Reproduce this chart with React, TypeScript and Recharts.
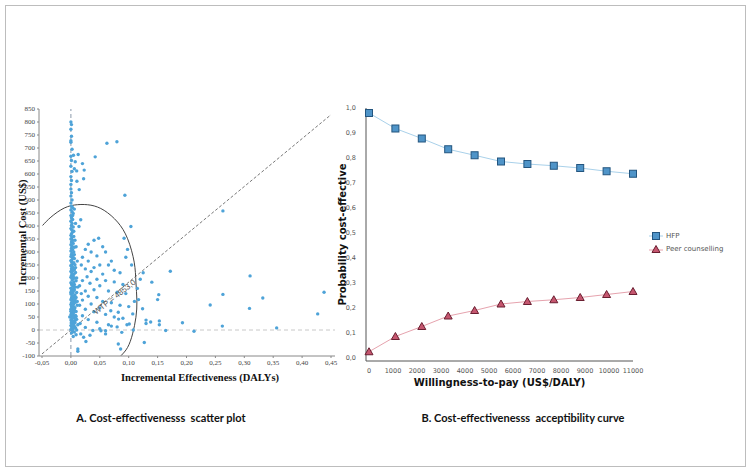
import {
  ComposedChart,
  LineChart,
  Scatter,
  Line,
  XAxis,
  YAxis,
  ReferenceLine,
  ReferenceDot,
} from 'recharts';

// panel A: incremental effectiveness (DALYs) vs incremental cost (US$)
const scatterPoints: [number, number][] = [
  // dense column at ~0 DALYs
  [0, 800], [0.001, 790], [0, 772], [0.001, 745], [0, 728], [0, 722], [0.002, 695], [0, 668],
  [0.001, 652], [0, 630], [0.002, 610], [0, 590], [0.001, 575], [0, 560], [0, 542], [0.001, 528],
  [0, 515], [0.002, 500], [0, 488], [0.001, 476], [0.003, 470], [0, 462], [0.002, 455], [0.004, 448],
  [0, 440], [0.001, 432], [0.003, 425], [0, 418], [0.002, 410], [0.001, 402], [0.004, 396], [0, 390],
  [0.002, 384], [0.003, 377], [0.001, 370], [0, 364], [0.005, 360], [0.002, 356], [0, 350], [0.003, 344],
  [0.001, 338], [0.004, 333], [0, 328], [0.002, 322], [0.006, 318], [0.001, 314], [0.003, 309], [0, 304],
  [0.005, 300], [0.002, 296], [0.001, 291], [0.004, 287], [0, 283], [0.003, 279], [0.006, 275], [0.002, 271],
  [0, 267], [0.001, 263], [0.005, 259], [0.003, 255], [0.007, 251], [0, 248], [0.002, 244], [0.004, 240],
  [0.001, 236], [0.006, 232], [0.003, 228], [0, 225], [0.008, 221], [0.002, 218], [0.005, 214], [0.001, 210],
  [0.004, 206], [0, 203], [0.007, 199], [0.003, 196], [0.002, 192], [0.009, 189], [0.005, 185], [0, 182],
  [0.001, 178], [0.006, 175], [0.003, 171], [0.004, 168], [0.008, 165], [0, 161], [0.002, 158], [0.006, 154],
  [0.001, 151], [0.004, 147], [0.01, 144], [0.003, 141], [0, 138], [0.007, 135], [0.002, 131], [0.005, 128],
  [0.009, 125], [0.001, 122], [0.004, 119], [0, 116], [0.006, 113], [0.003, 110], [0.008, 107], [0.002, 104],
  [0.005, 101], [0, 98], [0.011, 95], [0.004, 92], [0.001, 89], [0.007, 86], [0.003, 83], [0, 80],
  [0.006, 77], [0.002, 74], [0.009, 71], [0.005, 68], [0.001, 65], [0.004, 62], [0, 59], [0.008, 56],
  [0.003, 53], [-0.002, 50], [0.006, 47], [0.002, 44], [0.01, 41], [0, 38], [0.005, 35], [0.003, 32],
  [0.007, 29], [0.001, 26], [0.004, 23], [0.012, 20], [0, 17], [0.006, 14], [0.002, 11], [0.008, 8],
  [0.004, 5], [0, 2], [0.01, 0], [0.003, -4], [0.006, -8], [0.001, -12], [0.009, -18], [0.004, -25],
  [0.012, -82], [0.001, 245], [0.003, 215], [0.002, 175], [0.005, 160], [0, 145], [0.004, 130], [0.007, 118],
  [0.001, 105], [0.003, 92], [0.006, 85], [0, 72], [0.002, 60], [0.004, 48], [0.008, 38], [0.001, 30],
  [0.005, 20], [0.003, 12], [0.009, 52], [0.011, 110], [0.012, 165], [0.01, 200], [0.008, 240], [0.011, 265],
  [0.006, 290], [0.009, 320], [0.007, 345], [0.005, 380], [0.008, 410], [0.003, 440], [0.006, 465],
  // spread out around the column
  [0.0126, 675], [0.0045, 672], [0.0075, 647], [0.02, 640], [0.006, 620], [0.01, 612], [0.023, 615],
  [0.0104, 572], [0.022, 582], [0.0144, 540], [0.042, 666], [0.0623, 718], [0.0796, 724], [0.0934, 518],
  [0.1038, 398], [0.017, 424], [0.014, 398], [0.048, 353], [0.092, 353], [0.098, 310],
  [0.03, 330], [0.04, 345], [0.025, 310], [0.055, 320], [0.035, 300], [0.045, 285], [0.06, 300], [0.07, 265],
  [0.02, 280], [0.03, 265], [0.05, 250], [0.04, 240], [0.065, 250], [0.075, 230], [0.085, 220], [0.018, 250],
  [0.025, 235], [0.035, 225], [0.055, 215], [0.028, 205], [0.045, 195], [0.06, 190], [0.075, 185], [0.09, 175],
  [0.02, 190], [0.033, 180], [0.05, 170], [0.015, 170], [0.04, 155], [0.065, 150], [0.08, 145], [0.095, 140],
  [0.025, 150], [0.018, 140], [0.03, 130], [0.045, 125], [0.055, 110], [0.07, 105], [0.085, 95], [0.1, 90],
  [0.02, 115], [0.035, 100], [0.05, 85], [0.015, 95], [0.025, 80], [0.04, 70], [0.06, 60], [0.075, 50],
  [0.09, 45], [0.02, 55], [0.03, 40], [0.045, 30], [0.065, 20], [0.08, 12], [0.016, 25], [0.025, 10],
  [0.038, -2], [0.05, 5], [0.06, -3], [0.07, 15], [0.069, 74], [0.082, 68], [0.0825, 42], [0.097, 20],
  [0.088, -9], [0.082, -54], [0.086, -73], [0.012, -73], [0.026, -44], [0.052, -3], [0.06, -15], [0.017, -15],
  [0.022, -28], [0.033, -20],
  // far right
  [0.263, 458], [0.172, 226], [0.31, 208], [0.125, 220], [0.14, 184], [0.438, 145], [0.263, 137], [0.152, 136],
  [0.356, 8], [0.427, 62], [0.332, 123], [0.309, 83], [0.262, 15], [0.241, 96], [0.213, -5], [0.193, 28],
  [0.164, -2], [0.153, 35], [0.153, 20], [0.15, 117], [0.138, 31], [0.13, 38], [0.13, 25], [0.127, -48],
  [0.124, 82], [0.117, 117], [0.108, 0], [0.107, 62], [0.101, 23], [0.11, 110], [0.115, 160], [0.12, 195],
  [0.105, 250], [0.095, 280],
];

// confidence ellipse
const ellipseArc: [number, number][] = [
  [-0.049, 402], [-0.0346, 434], [-0.0116, 469], [0.0116, 482], [0.0346, 480], [0.0576, 460],
  [0.0808, 415], [0.0981, 351], [0.1095, 261], [0.1125, 184], [0.1142, 113], [0.1125, 49],
  [0.1067, -15], [0.0981, -67], [0.0865, -99],
];

const wtpThreshold: [number, number][] = [[-0.05, -92], [0.45, 828]];
const effectTicks = [-0.05, 0, 0.05, 0.1, 0.15, 0.2, 0.25, 0.3, 0.35, 0.4, 0.45];
const costTicks = [
  -100, -50, 0, 50, 100, 150, 200, 250, 300, 350, 400, 450, 500, 550, 600, 650, 700, 750, 800, 850,
];

// panel B: acceptability curve
const wtpValues = [0, 1100, 2200, 3300, 4400, 5500, 6600, 7700, 8800, 9900, 11000];
const hfpProb = [0.98, 0.918, 0.878, 0.835, 0.811, 0.786, 0.776, 0.769, 0.76, 0.747, 0.737];
const peerProb = [0.025, 0.086, 0.126, 0.168, 0.19, 0.216, 0.226, 0.233, 0.242, 0.254, 0.266];
const wtpTicks = [0, 1000, 2000, 3000, 4000, 5000, 6000, 7000, 8000, 9000, 10000, 11000];
const probTicks = [0, 0.1, 0.2, 0.3, 0.4, 0.5, 0.6, 0.7, 0.8, 0.9, 1];

const scatterData = scatterPoints.map(([x, y]) => ({ x, y }));
const ellipseData = ellipseArc.map(([x, y]) => ({ x, y }));
const ceacData = wtpValues.map((wtp, i) => ({ wtp, hfp: hfpProb[i], peer: peerProb[i] }));

const comma = (digits: number) => (v: number) => v.toFixed(digits).replace('.', ',');

const serifTick = { fontFamily: 'Liberation Serif', fontSize: 7, fill: '#444' };
const sansTick = { fontFamily: 'DejaVu Sans', fontSize: 6.5, fill: '#555' };

const Dot = (p: any) => <circle cx={p.cx} cy={p.cy} r={1.7} fill="#4ea3d8" />;

const Square = (p: any) =>
  p.cx == null ? null : (
    <rect x={p.cx - 3.5} y={p.cy - 3.5} width={7} height={7} fill="#4f94c8" stroke="#23557f" strokeWidth={1} />
  );

const Triangle = (p: any) =>
  p.cx == null ? null : (
    <path
      d={`M${p.cx},${p.cy - 4} L${p.cx + 4},${p.cy + 3} L${p.cx - 4},${p.cy + 3} Z`}
      fill="#c5566f"
      stroke="#6a1e30"
      strokeWidth={1}
    />
  );

const WtpLabel = (p: any) => (
  <text
    x={p.cx}
    y={p.cy}
    transform={`rotate(-38 ${p.cx} ${p.cy})`}
    textAnchor="middle"
    fontFamily="Liberation Sans"
    fontSize={8}
    fill="#555"
    dy={3}
  >
    WTP = 4853,0
  </text>
);

function ScatterPanel() {
  return (
    <ComposedChart width={360} height={400} margin={{ top: 109, right: 25, bottom: 14, left: 0 }}>
      <XAxis
        type="number"
        dataKey="x"
        domain={[-0.05, 0.45]}
        ticks={effectTicks}
        tickFormatter={comma(2)}
        padding={{ left: 3, right: 4 }}
        height={30}
        tickSize={2}
        stroke="#888"
        tick={serifTick}
        allowDataOverflow
        label={{
          value: 'Incremental Effectiveness (DALYs)',
          position: 'insideBottom',
          offset: 5,
          dx: 13,
          style: { fontFamily: 'Liberation Serif', fontWeight: 'bold', fontSize: 10.5, fill: '#111' },
        }}
      />
      <YAxis
        type="number"
        dataKey="y"
        domain={[-100, 850]}
        ticks={costTicks}
        width={39}
        tickSize={2}
        stroke="#888"
        tick={serifTick}
        interval={0}
        allowDataOverflow
        label={{
          value: 'Incremental Cost (US$)',
          angle: -90,
          position: 'insideLeft',
          offset: 22,
          style: {
            fontFamily: 'Liberation Serif',
            fontWeight: 'bold',
            fontSize: 10.5,
            fill: '#111',
            textAnchor: 'middle',
          },
        }}
      />
      <ReferenceLine y={0} stroke="#c8c8c8" strokeDasharray="4 3" />
      <ReferenceLine x={0} stroke="#8a9aaa" strokeDasharray="4 3" />
      <Scatter data={scatterData} shape={Dot} isAnimationActive={false} />
      <ReferenceLine
        segment={[
          { x: wtpThreshold[0][0], y: wtpThreshold[0][1] },
          { x: wtpThreshold[1][0], y: wtpThreshold[1][1] },
        ]}
        stroke="#555"
        strokeDasharray="3 2"
        strokeWidth={0.8}
      />
      <Line
        data={ellipseData}
        dataKey="y"
        type="natural"
        stroke="#444"
        strokeWidth={1}
        dot={false}
        isAnimationActive={false}
      />
      <ReferenceDot x={0.075} y={128} r={0} shape={WtpLabel} />
    </ComposedChart>
  );
}

function CeacPanel() {
  return (
    <LineChart width={420} height={400} data={ceacData} margin={{ top: 108, right: 117, bottom: 11, left: 0 }}>
      <XAxis
        type="number"
        dataKey="wtp"
        domain={[0, 11000]}
        ticks={wtpTicks}
        padding={{ left: 3, right: 0 }}
        height={28}
        tickLine={false}
        tickMargin={1}
        stroke="#555"
        tick={sansTick}
        interval={0}
        label={{
          value: 'Willingness-to-pay (US$/DALY)',
          position: 'insideBottom',
          offset: 3,
          style: { fontFamily: 'DejaVu Sans', fontWeight: 'bold', fontSize: 10, fill: '#111' },
        }}
      />
      <YAxis
        type="number"
        domain={[0, 1]}
        ticks={probTicks}
        tickFormatter={comma(1)}
        padding={{ top: 0, bottom: 3 }}
        width={36}
        tickLine={false}
        tickMargin={4}
        stroke="#555"
        tick={sansTick}
        interval={0}
        label={{
          value: 'Probability cost-effective',
          angle: -90,
          position: 'insideLeft',
          offset: 12,
          style: {
            fontFamily: 'DejaVu Sans',
            fontWeight: 'bold',
            fontSize: 10,
            fill: '#111',
            textAnchor: 'middle',
          },
        }}
      />
      <Line dataKey="hfp" stroke="#a9d1ea" strokeWidth={1} dot={Square} isAnimationActive={false} />
      <Line dataKey="peer" stroke="#e6a3ae" strokeWidth={1} dot={Triangle} isAnimationActive={false} />
    </LineChart>
  );
}

function LegendBox() {
  const row = { display: 'flex', alignItems: 'center', height: 13 } as const;
  const txt = { fontFamily: 'DejaVu Sans', fontSize: 7, color: '#555', marginLeft: 3 };
  return (
    <div style={{ position: 'absolute', left: 649, top: 229 }}>
      <div style={row}>
        <svg width={14} height={10}>
          <line x1={0} y1={5} x2={14} y2={5} stroke="#a9d1ea" />
          <rect x={3.5} y={1.5} width={7} height={7} fill="#4f94c8" stroke="#23557f" />
        </svg>
        <span style={txt}>HFP</span>
      </div>
      <div style={row}>
        <svg width={14} height={10}>
          <line x1={0} y1={6} x2={14} y2={6} stroke="#e6a3ae" />
          <path d="M7,1.5 L11,8.5 L3,8.5 Z" fill="#c5566f" stroke="#6a1e30" />
        </svg>
        <span style={txt}>Peer counselling</span>
      </div>
    </div>
  );
}

export default function App() {
  const caption = {
    position: 'absolute',
    top: 411,
    fontFamily: 'Lato',
    fontWeight: 'bold',
    fontSize: 11,
    color: '#111',
    whiteSpace: 'pre',
    transform: 'translateX(-50%)',
  } as const;
  return (
    <div style={{ position: 'fixed', left: 0, top: 0, width: 750, height: 474, background: '#fff' }}>
      <div
        style={{
          position: 'absolute',
          left: 5,
          top: 5,
          width: 741,
          height: 462,
          border: '1.5px solid #bdbdbd',
          boxSizing: 'border-box',
        }}
      />
      <div style={{ position: 'absolute', left: 0, top: 0 }}>
        <ScatterPanel />
      </div>
      <div style={{ position: 'absolute', left: 330, top: 0 }}>
        <CeacPanel />
      </div>
      <LegendBox />
      <div style={{ ...caption, left: 161 }}>A. Cost-effectivenesss  scatter plot</div>
      <div style={{ ...caption, left: 523 }}>B. Cost-effectivenesss  acceptibility curve</div>
    </div>
  );
}
